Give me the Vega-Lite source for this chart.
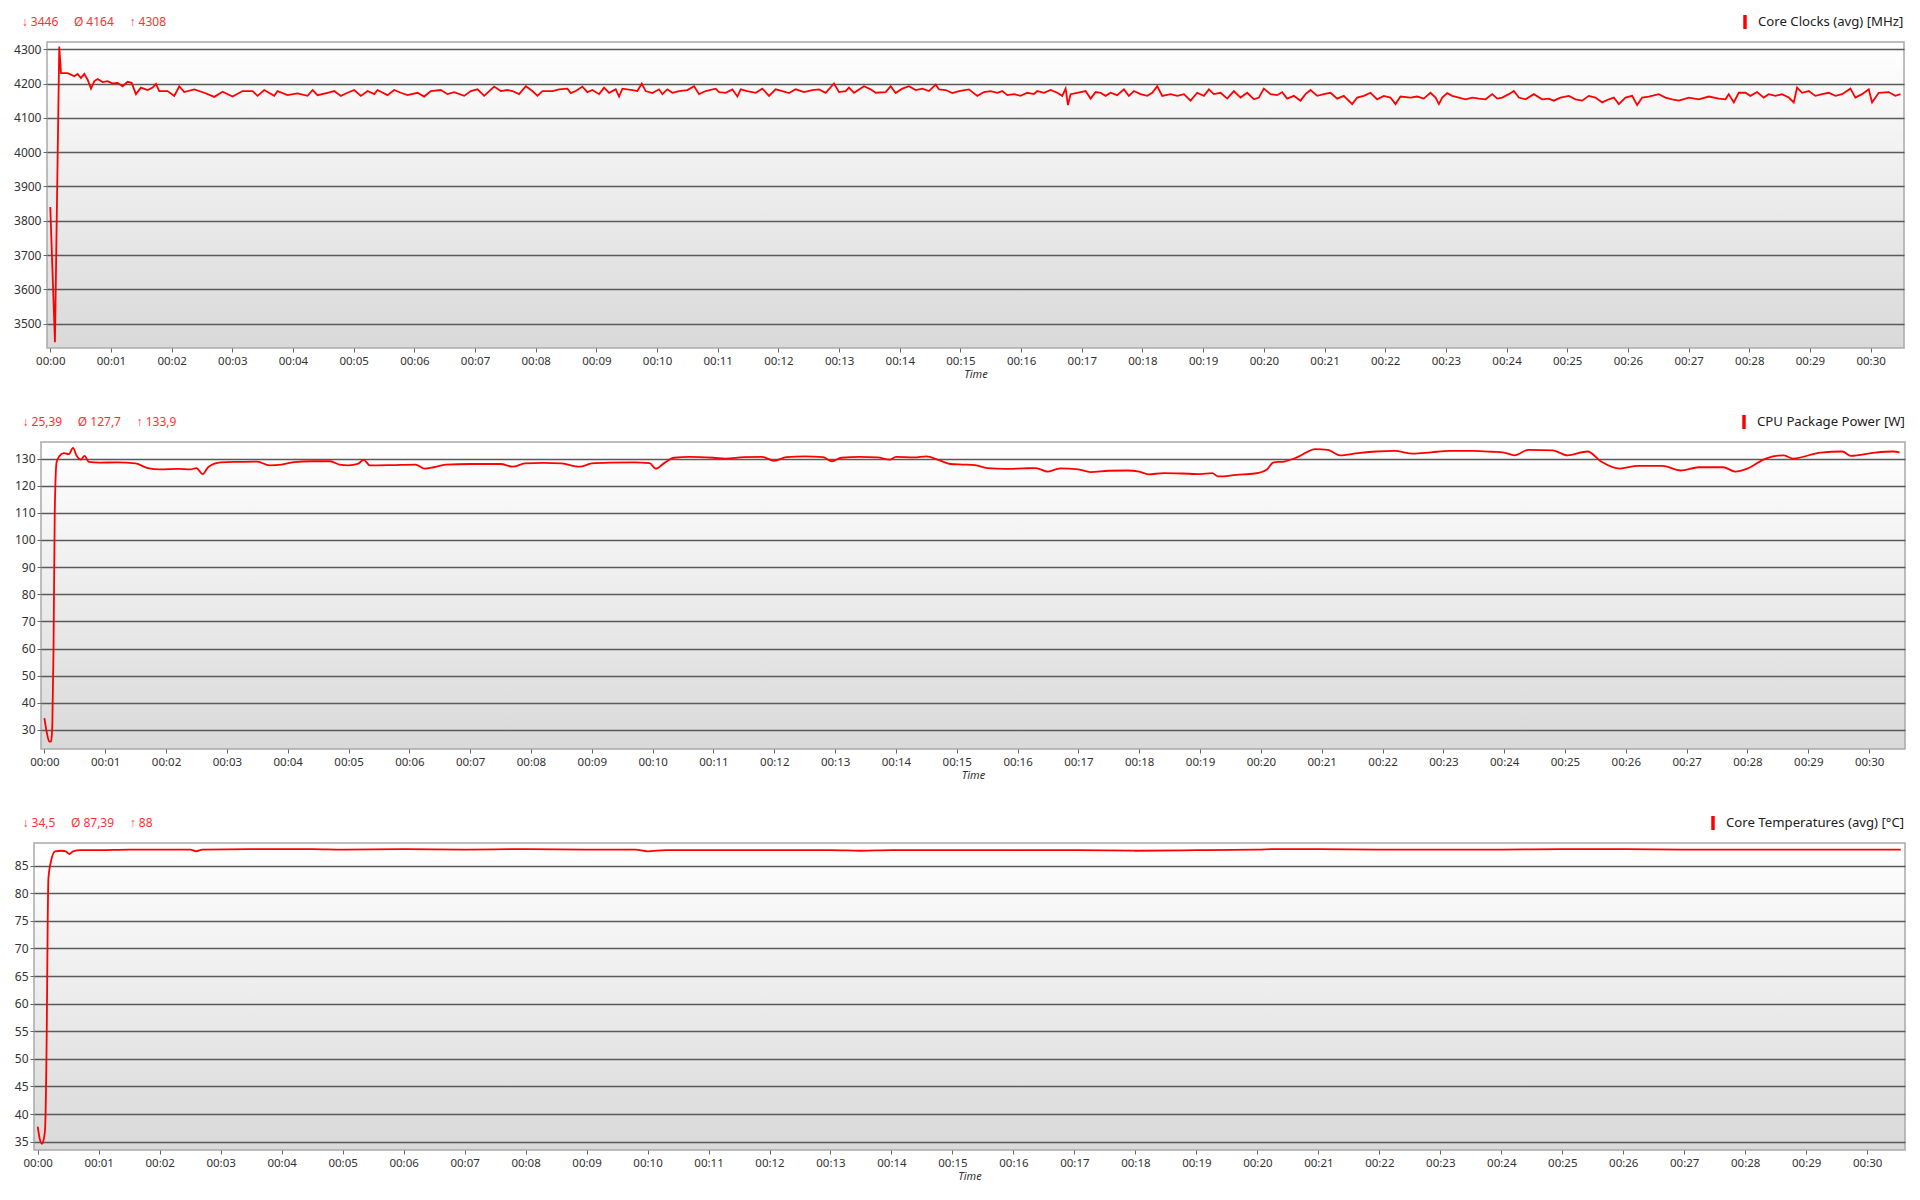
{
  "$schema": "https://vega.github.io/schema/vega-lite/v6.json",
  "padding": {"top": 12, "left": 11, "right": 17, "bottom": 5},
  "background": "#ffffff",
  "spacing": 31,
  "resolve": {"scale": {"color": "independent"}, "legend": {"color": "independent"}},
  "config": {
    "font": "Noto Sans",
    "view": {
      "stroke": "#a9a9a9",
      "strokeWidth": 1.5,
      "fill": {"gradient": "linear", "x1": 0, "y1": 0, "x2": 0, "y2": 1, "stops": [{"offset": 0, "color": "#ffffff"}, {"offset": 1, "color": "#d9d9d9"}]}
    },
    "axis": {"labelColor": "#333333", "labelFontSize": 12, "tickColor": "#666666", "tickSize": 4, "domain": false, "gridColor": "#5a5a5a", "gridWidth": 1.5, "labelPadding": 2},
    "axisX": {"grid": false, "labelFontSize": 11.5, "titleFontSize": 11, "titleFontStyle": "italic", "titleFontWeight": "normal", "titleColor": "#333333", "titlePadding": 2, "labelPadding": 3},
    "axisY": {"format": "d"},
    "legend": {"orient": "top", "title": null, "labelFontSize": 13.2, "labelColor": "#222222", "labelLimit": 0, "symbolType": "M0,-1V1", "symbolStrokeWidth": 3.5, "symbolSize": 196, "padding": 0, "offset": 6, "labelOffset": 4, "layout": {"top": {"anchor": "end"}}},
    "title": {"anchor": "start", "color": "#ff3030", "fontSize": 12, "fontWeight": "normal", "offset": -16, "dx": 8.7}
  },
  "datasets": {
    "clk": [
      {"t":0,"v":3840},{"t":0.077,"v":3446},{"t":0.148,"v":4308},{"t":0.177,"v":4230},{"t":0.286,"v":4230},{"t":0.341,"v":4226},{"t":0.396,"v":4221},{"t":0.451,"v":4228},{"t":0.506,"v":4216},{"t":0.561,"v":4228},{"t":0.616,"v":4211},{"t":0.671,"v":4185},{"t":0.726,"v":4207},{"t":0.781,"v":4213},{"t":0.863,"v":4204},{"t":0.945,"v":4207},{"t":1.028,"v":4200},{"t":1.110,"v":4202},{"t":1.192,"v":4192},{"t":1.275,"v":4205},{"t":1.341,"v":4202},{"t":1.412,"v":4169},{"t":1.494,"v":4188},{"t":1.604,"v":4181},{"t":1.687,"v":4188},{"t":1.742,"v":4199},{"t":1.796,"v":4178},{"t":1.934,"v":4178},{"t":2.044,"v":4164},{"t":2.126,"v":4192},{"t":2.208,"v":4175},{"t":2.373,"v":4183},{"t":2.538,"v":4173},{"t":2.703,"v":4161},{"t":2.840,"v":4176},{"t":3.005,"v":4162},{"t":3.169,"v":4178},{"t":3.334,"v":4178},{"t":3.416,"v":4164},{"t":3.526,"v":4181},{"t":3.691,"v":4164},{"t":3.746,"v":4178},{"t":3.911,"v":4166},{"t":4.075,"v":4171},{"t":4.240,"v":4164},{"t":4.323,"v":4181},{"t":4.405,"v":4166},{"t":4.570,"v":4173},{"t":4.680,"v":4178},{"t":4.789,"v":4164},{"t":4.899,"v":4173},{"t":5.009,"v":4181},{"t":5.119,"v":4164},{"t":5.229,"v":4178},{"t":5.339,"v":4169},{"t":5.393,"v":4181},{"t":5.558,"v":4166},{"t":5.668,"v":4181},{"t":5.778,"v":4173},{"t":5.888,"v":4166},{"t":6.052,"v":4173},{"t":6.162,"v":4162},{"t":6.272,"v":4178},{"t":6.437,"v":4181},{"t":6.547,"v":4169},{"t":6.657,"v":4175},{"t":6.821,"v":4164},{"t":6.931,"v":4178},{"t":7.041,"v":4183},{"t":7.151,"v":4164},{"t":7.315,"v":4191},{"t":7.425,"v":4178},{"t":7.535,"v":4181},
      {"t":7.617,"v":4178},{"t":7.727,"v":4169},{"t":7.837,"v":4192},{"t":7.946,"v":4178},{"t":8.029,"v":4164},{"t":8.111,"v":4178},{"t":8.276,"v":4178},{"t":8.386,"v":4183},{"t":8.523,"v":4185},{"t":8.578,"v":4172},{"t":8.660,"v":4178},{"t":8.770,"v":4191},{"t":8.852,"v":4175},{"t":8.935,"v":4181},{"t":9.045,"v":4169},{"t":9.127,"v":4188},{"t":9.209,"v":4173},{"t":9.319,"v":4183},{"t":9.374,"v":4162},{"t":9.429,"v":4185},{"t":9.594,"v":4181},{"t":9.676,"v":4178},{"t":9.748,"v":4200},{"t":9.813,"v":4178},{"t":9.923,"v":4172},{"t":10.033,"v":4183},{"t":10.088,"v":4169},{"t":10.170,"v":4183},{"t":10.253,"v":4173},{"t":10.363,"v":4178},{"t":10.500,"v":4181},{"t":10.610,"v":4192},{"t":10.692,"v":4169},{"t":10.802,"v":4178},{"t":10.967,"v":4185},{"t":11.022,"v":4175},{"t":11.131,"v":4173},{"t":11.241,"v":4183},{"t":11.324,"v":4162},{"t":11.379,"v":4183},{"t":11.488,"v":4178},{"t":11.626,"v":4173},{"t":11.735,"v":4185},{"t":11.845,"v":4164},{"t":11.955,"v":4183},{"t":12.065,"v":4178},{"t":12.175,"v":4172},{"t":12.285,"v":4183},{"t":12.422,"v":4175},{"t":12.559,"v":4181},{"t":12.669,"v":4183},{"t":12.779,"v":4173},{"t":12.916,"v":4200},{"t":12.999,"v":4175},{"t":13.108,"v":4178},{"t":13.163,"v":4188},{"t":13.246,"v":4173},{"t":13.410,"v":4192},{"t":13.520,"v":4183},{"t":13.603,"v":4173},{"t":13.767,"v":4175},{"t":13.850,"v":4192},{"t":13.932,"v":4172},{"t":14.042,"v":4185},{"t":14.152,"v":4192},{"t":14.262,"v":4181},{"t":14.371,"v":4185},{"t":14.481,"v":4178},{"t":14.591,"v":4197},{"t":14.646,"v":4183},{"t":14.756,"v":4181},{"t":14.866,"v":4172},{"t":14.976,"v":4178},{"t":15.140,"v":4183},
      {"t":15.278,"v":4164},{"t":15.388,"v":4175},{"t":15.497,"v":4178},{"t":15.607,"v":4173},{"t":15.690,"v":4178},{"t":15.772,"v":4166},{"t":15.882,"v":4169},{"t":15.992,"v":4164},{"t":16.102,"v":4173},{"t":16.211,"v":4169},{"t":16.266,"v":4178},{"t":16.376,"v":4173},{"t":16.486,"v":4181},{"t":16.596,"v":4173},{"t":16.678,"v":4164},{"t":16.733,"v":4185},{"t":16.772,"v":4137},{"t":16.815,"v":4169},{"t":16.925,"v":4173},{"t":17.063,"v":4178},{"t":17.145,"v":4156},{"t":17.227,"v":4175},{"t":17.310,"v":4173},{"t":17.392,"v":4164},{"t":17.474,"v":4173},{"t":17.584,"v":4166},{"t":17.694,"v":4183},{"t":17.776,"v":4164},{"t":17.859,"v":4178},{"t":17.969,"v":4169},{"t":18.078,"v":4164},{"t":18.161,"v":4173},{"t":18.243,"v":4192},{"t":18.326,"v":4164},{"t":18.463,"v":4169},{"t":18.573,"v":4164},{"t":18.683,"v":4169},{"t":18.792,"v":4150},{"t":18.902,"v":4173},{"t":19.012,"v":4164},{"t":19.095,"v":4183},{"t":19.177,"v":4169},{"t":19.287,"v":4173},{"t":19.396,"v":4156},{"t":19.506,"v":4178},{"t":19.616,"v":4159},{"t":19.726,"v":4173},{"t":19.836,"v":4154},{"t":19.918,"v":4159},{"t":20.000,"v":4185},{"t":20.110,"v":4169},{"t":20.220,"v":4166},{"t":20.302,"v":4175},{"t":20.385,"v":4156},{"t":20.495,"v":4164},{"t":20.604,"v":4150},{"t":20.687,"v":4169},{"t":20.769,"v":4181},{"t":20.879,"v":4164},{"t":20.989,"v":4169},{"t":21.099,"v":4173},{"t":21.209,"v":4156},{"t":21.318,"v":4164},{"t":21.456,"v":4140},{"t":21.538,"v":4159},{"t":21.648,"v":4164},{"t":21.758,"v":4173},{"t":21.868,"v":4154},{"t":21.977,"v":4164},{"t":22.087,"v":4159},{"t":22.170,"v":4140},{"t":22.252,"v":4162},{"t":22.417,"v":4159},{"t":22.527,"v":4162},{"t":22.636,"v":4156},{"t":22.746,"v":4173},
      {"t":22.830,"v":4159},{"t":22.885,"v":4140},{"t":22.940,"v":4159},{"t":23.022,"v":4172},{"t":23.105,"v":4164},{"t":23.214,"v":4159},{"t":23.324,"v":4154},{"t":23.434,"v":4159},{"t":23.544,"v":4156},{"t":23.654,"v":4154},{"t":23.764,"v":4169},{"t":23.846,"v":4156},{"t":23.928,"v":4159},{"t":24.038,"v":4169},{"t":24.120,"v":4178},{"t":24.203,"v":4159},{"t":24.313,"v":4154},{"t":24.450,"v":4169},{"t":24.587,"v":4154},{"t":24.697,"v":4156},{"t":24.779,"v":4150},{"t":24.889,"v":4159},{"t":25.027,"v":4164},{"t":25.136,"v":4154},{"t":25.246,"v":4150},{"t":25.356,"v":4164},{"t":25.466,"v":4159},{"t":25.576,"v":4145},{"t":25.686,"v":4154},{"t":25.768,"v":4159},{"t":25.850,"v":4140},{"t":25.960,"v":4159},{"t":26.070,"v":4164},{"t":26.152,"v":4137},{"t":26.235,"v":4159},{"t":26.345,"v":4162},{"t":26.509,"v":4169},{"t":26.619,"v":4159},{"t":26.729,"v":4154},{"t":26.839,"v":4150},{"t":27.004,"v":4159},{"t":27.168,"v":4154},{"t":27.333,"v":4162},{"t":27.498,"v":4156},{"t":27.608,"v":4154},{"t":27.662,"v":4169},{"t":27.745,"v":4145},{"t":27.827,"v":4173},{"t":27.937,"v":4173},{"t":28.019,"v":4164},{"t":28.129,"v":4175},{"t":28.239,"v":4159},{"t":28.321,"v":4169},{"t":28.431,"v":4164},{"t":28.541,"v":4169},{"t":28.651,"v":4159},{"t":28.733,"v":4145},{"t":28.788,"v":4188},{"t":28.871,"v":4173},{"t":28.981,"v":4178},{"t":29.090,"v":4164},{"t":29.200,"v":4169},{"t":29.310,"v":4173},{"t":29.420,"v":4164},{"t":29.530,"v":4169},{"t":29.667,"v":4185},{"t":29.749,"v":4159},{"t":29.859,"v":4169},{"t":29.969,"v":4183},{"t":30.024,"v":4145},{"t":30.134,"v":4173},{"t":30.298,"v":4175},{"t":30.408,"v":4164},{"t":30.491,"v":4169}
    ],
    "pwr": [
      {"t":0,"v":34.4},{"t":0.04,"v":29},{"t":0.08,"v":25.7},{"t":0.11,"v":25.8},{"t":0.13,"v":31.6},{"t":0.15,"v":60},{"t":0.17,"v":110},{"t":0.2,"v":128.6},{"t":0.25,"v":131},{"t":0.32,"v":132},{"t":0.4,"v":131.6},{"t":0.47,"v":133.9},{"t":0.53,"v":131},{"t":0.6,"v":129.6},{"t":0.66,"v":131},{"t":0.73,"v":128.8},{"t":0.9,"v":128.5},{"t":1.2,"v":128.6},{"t":1.5,"v":128.2},{"t":1.7,"v":126.5},{"t":1.9,"v":126},{"t":2.2,"v":126.2},{"t":2.4,"v":126},{"t":2.5,"v":126.5},{"t":2.6,"v":124.3},{"t":2.7,"v":127},{"t":2.9,"v":128.6},{"t":3.2,"v":128.8},{"t":3.5,"v":128.9},{"t":3.7,"v":127.5},{"t":3.9,"v":127.8},{"t":4.1,"v":128.7},{"t":4.4,"v":129},{"t":4.7,"v":129},{"t":4.85,"v":127.8},{"t":5.0,"v":127.5},{"t":5.15,"v":128},{"t":5.25,"v":129.5},{"t":5.35,"v":127.5},{"t":5.7,"v":127.6},{"t":6.1,"v":127.8},{"t":6.25,"v":126.3},{"t":6.4,"v":126.8},{"t":6.6,"v":127.8},{"t":7.0,"v":128},{"t":7.5,"v":128},{"t":7.7,"v":127},{"t":7.9,"v":128.2},{"t":8.2,"v":128.4},{"t":8.5,"v":128.2},{"t":8.8,"v":127},{"t":9.0,"v":128.2},{"t":9.3,"v":128.5},{"t":9.7,"v":128.6},{"t":9.95,"v":128.3},{"t":10.05,"v":126.3},{"t":10.2,"v":128.5},{"t":10.35,"v":130.3},{"t":10.6,"v":130.6},{"t":11.0,"v":130.3},{"t":11.2,"v":130},{"t":11.5,"v":130.5},{"t":11.8,"v":130.6},{"t":12.0,"v":129.2},{"t":12.2,"v":130.5},{"t":12.5,"v":130.8},{"t":12.8,"v":130.5},{"t":12.95,"v":129},{"t":13.1,"v":130.3},{"t":13.4,"v":130.6},{"t":13.7,"v":130.4},{"t":13.9,"v":129.6},{"t":14.0,"v":130.6},{"t":14.3,"v":130.4},{"t":14.5,"v":130.8},{"t":14.7,"v":129.5},{"t":14.9,"v":128},{"t":15.1,"v":127.8},{"t":15.3,"v":127.6},{"t":15.5,"v":126.5},{"t":15.8,"v":126.2},{"t":16.1,"v":126.4},{"t":16.3,"v":126.5},{"t":16.5,"v":125.2},{"t":16.7,"v":126.4},{"t":17.0,"v":126},{"t":17.2,"v":125},{"t":17.5,"v":125.5},{"t":17.8,"v":125.6},{"t":18.0,"v":125.2},{"t":18.15,"v":124.2},{"t":18.4,"v":124.6},{"t":18.7,"v":124.5},{"t":19.0,"v":124.3},{"t":19.2,"v":124.6},{"t":19.3,"v":123.4},{"t":19.6,"v":124},{"t":19.9,"v":124.5},{"t":20.1,"v":126},{"t":20.2,"v":128.5},{"t":20.4,"v":129},{"t":20.6,"v":130.5},{"t":20.9,"v":133.5},{"t":21.1,"v":133.2},{"t":21.3,"v":131.2},{"t":21.6,"v":132},{"t":21.9,"v":132.6},{"t":22.2,"v":132.8},{"t":22.5,"v":131.8},{"t":22.8,"v":132.3},{"t":23.1,"v":132.8},{"t":23.5,"v":132.8},{"t":23.8,"v":132.5},{"t":24.0,"v":132.2},{"t":24.17,"v":131.2},{"t":24.4,"v":133.2},{"t":24.8,"v":133},{"t":25.04,"v":131.2},{"t":25.37,"v":132.6},{"t":25.6,"v":128.8},{"t":25.9,"v":126.3},{"t":26.2,"v":127.3},{"t":26.6,"v":127.3},{"t":26.9,"v":125.6},{"t":27.2,"v":126.8},{"t":27.6,"v":126.8},{"t":27.8,"v":125.2},{"t":28.0,"v":126.3},{"t":28.3,"v":130},{"t":28.6,"v":131.2},{"t":28.75,"v":130},{"t":29.2,"v":132.2},{"t":29.56,"v":132.6},{"t":29.7,"v":131},{"t":30.1,"v":132.2},{"t":30.4,"v":132.6},{"t":30.5,"v":132.3}
    ],
    "tmp": [
      {"t":0,"v":37.7},{"t":0.035,"v":35.4},{"t":0.07,"v":34.6},{"t":0.1,"v":35.5},{"t":0.12,"v":37.2},{"t":0.148,"v":55},{"t":0.164,"v":75},{"t":0.175,"v":82.6},{"t":0.218,"v":85.8},{"t":0.284,"v":87.6},{"t":0.4,"v":87.7},{"t":0.46,"v":87.6},{"t":0.52,"v":87.1},{"t":0.58,"v":87.6},{"t":0.7,"v":87.8},{"t":1.0,"v":87.8},{"t":1.5,"v":87.9},{"t":2.0,"v":87.9},{"t":2.5,"v":87.9},{"t":2.6,"v":87.6},{"t":2.7,"v":87.9},{"t":3.5,"v":88.0},{"t":4.5,"v":88.0},{"t":5.0,"v":87.9},{"t":6.0,"v":88.0},{"t":7.0,"v":87.9},{"t":8.0,"v":88.0},{"t":9.0,"v":87.9},{"t":9.8,"v":87.9},{"t":10.0,"v":87.6},{"t":10.3,"v":87.8},{"t":11,"v":87.8},{"t":12,"v":87.8},{"t":13,"v":87.8},{"t":13.5,"v":87.7},{"t":14,"v":87.8},{"t":15,"v":87.8},{"t":16,"v":87.8},{"t":17,"v":87.8},{"t":18,"v":87.7},{"t":19,"v":87.8},{"t":20,"v":87.9},{"t":20.3,"v":88.0},{"t":21,"v":88.0},{"t":22,"v":87.9},{"t":23,"v":87.9},{"t":24,"v":87.9},{"t":25,"v":88.0},{"t":26,"v":88.0},{"t":27,"v":87.9},{"t":28,"v":87.9},{"t":29,"v":87.9},{"t":30,"v":87.9},{"t":30.55,"v":87.9}
    ]
  },
  "vconcat": [
    {
      "spacing": 0,
      "resolve": {"scale": {"color": "independent"}, "legend": {"color": "independent"}},
      "hconcat": [
        {"width": 1, "height": 1, "view": {"stroke": null, "fill": null}, "data": {"values": []}, "mark": "point", "encoding": {}},
        {
          "width": 1857, "height": 306,
          "title": {"text": "↓ 3446\u00a0\u00a0\u00a0\u00a0\u00a0Ø 4164\u00a0\u00a0\u00a0\u00a0\u00a0↑ 4308"},
          "data": {"name": "clk"},
          "mark": {"type": "line", "strokeWidth": 1.8},
          "encoding": {
            "x": {"field": "t", "type": "quantitative", "scale": {"domain": [-0.054, 30.55], "nice": false, "zero": false},
                  "axis": {"values": [0,1,2,3,4,5,6,7,8,9,10,11,12,13,14,15,16,17,18,19,20,21,22,23,24,25,26,27,28,29,30], "labelExpr": "'00:' + (datum.value < 10 ? '0' : '') + datum.value", "title": "Time"}},
            "y": {"field": "v", "type": "quantitative", "scale": {"domain": [3429, 4321], "nice": false, "zero": false},
                  "axis": {"values": [3500,3600,3700,3800,3900,4000,4100,4200,4300], "title": null, "grid": true, "minExtent": 34, "maxExtent": 34}},
            "color": {"datum": "Core Clocks (avg) [MHz]", "scale": {"range": ["#ff0000"]}}
          }
        }
      ]
    },
    {
      "spacing": 0,
      "resolve": {"scale": {"color": "independent"}, "legend": {"color": "independent"}},
      "hconcat": [
        {"width": 1, "height": 1, "view": {"stroke": null, "fill": null}, "data": {"values": []}, "mark": "point", "encoding": {}},
        {
          "width": 1864, "height": 307,
          "title": {"text": "↓ 25,39\u00a0\u00a0\u00a0\u00a0\u00a0Ø 127,7\u00a0\u00a0\u00a0\u00a0\u00a0↑ 133,9"},
          "data": {"name": "pwr"},
          "mark": {"type": "line", "strokeWidth": 1.8, "interpolate": "monotone"},
          "encoding": {
            "x": {"field": "t", "type": "quantitative", "scale": {"domain": [-0.056, 30.59], "nice": false, "zero": false},
                  "axis": {"values": [0,1,2,3,4,5,6,7,8,9,10,11,12,13,14,15,16,17,18,19,20,21,22,23,24,25,26,27,28,29,30], "labelExpr": "'00:' + (datum.value < 10 ? '0' : '') + datum.value", "title": "Time"}},
            "y": {"field": "v", "type": "quantitative", "scale": {"domain": [23.0, 136.1], "nice": false, "zero": false},
                  "axis": {"values": [30,40,50,60,70,80,90,100,110,120,130], "title": null, "grid": true, "minExtent": 27.3, "maxExtent": 27.3}},
            "color": {"datum": "CPU Package Power [W]", "scale": {"range": ["#ff0000"]}}
          }
        }
      ]
    },
    {
      "spacing": 0,
      "resolve": {"scale": {"color": "independent"}, "legend": {"color": "independent"}},
      "hconcat": [
        {"width": 1, "height": 1, "view": {"stroke": null, "fill": null}, "data": {"values": []}, "mark": "point", "encoding": {}},
        {
          "width": 1871, "height": 307,
          "title": {"text": "↓ 34,5\u00a0\u00a0\u00a0\u00a0\u00a0Ø 87,39\u00a0\u00a0\u00a0\u00a0\u00a0↑ 88"},
          "data": {"name": "tmp"},
          "mark": {"type": "line", "strokeWidth": 1.8, "interpolate": "monotone"},
          "encoding": {
            "x": {"field": "t", "type": "quantitative", "scale": {"domain": [-0.061, 30.62], "nice": false, "zero": false},
                  "axis": {"values": [0,1,2,3,4,5,6,7,8,9,10,11,12,13,14,15,16,17,18,19,20,21,22,23,24,25,26,27,28,29,30], "labelExpr": "'00:' + (datum.value < 10 ? '0' : '') + datum.value", "title": "Time"}},
            "y": {"field": "v", "type": "quantitative", "scale": {"domain": [33.48, 89.1], "nice": false, "zero": false},
                  "axis": {"values": [35,40,45,50,55,60,65,70,75,80,85], "title": null, "grid": true, "minExtent": 20.3, "maxExtent": 20.3}},
            "color": {"datum": "Core Temperatures (avg) [°C]", "scale": {"range": ["#ff0000"]}}
          }
        }
      ]
    }
  ]
}
